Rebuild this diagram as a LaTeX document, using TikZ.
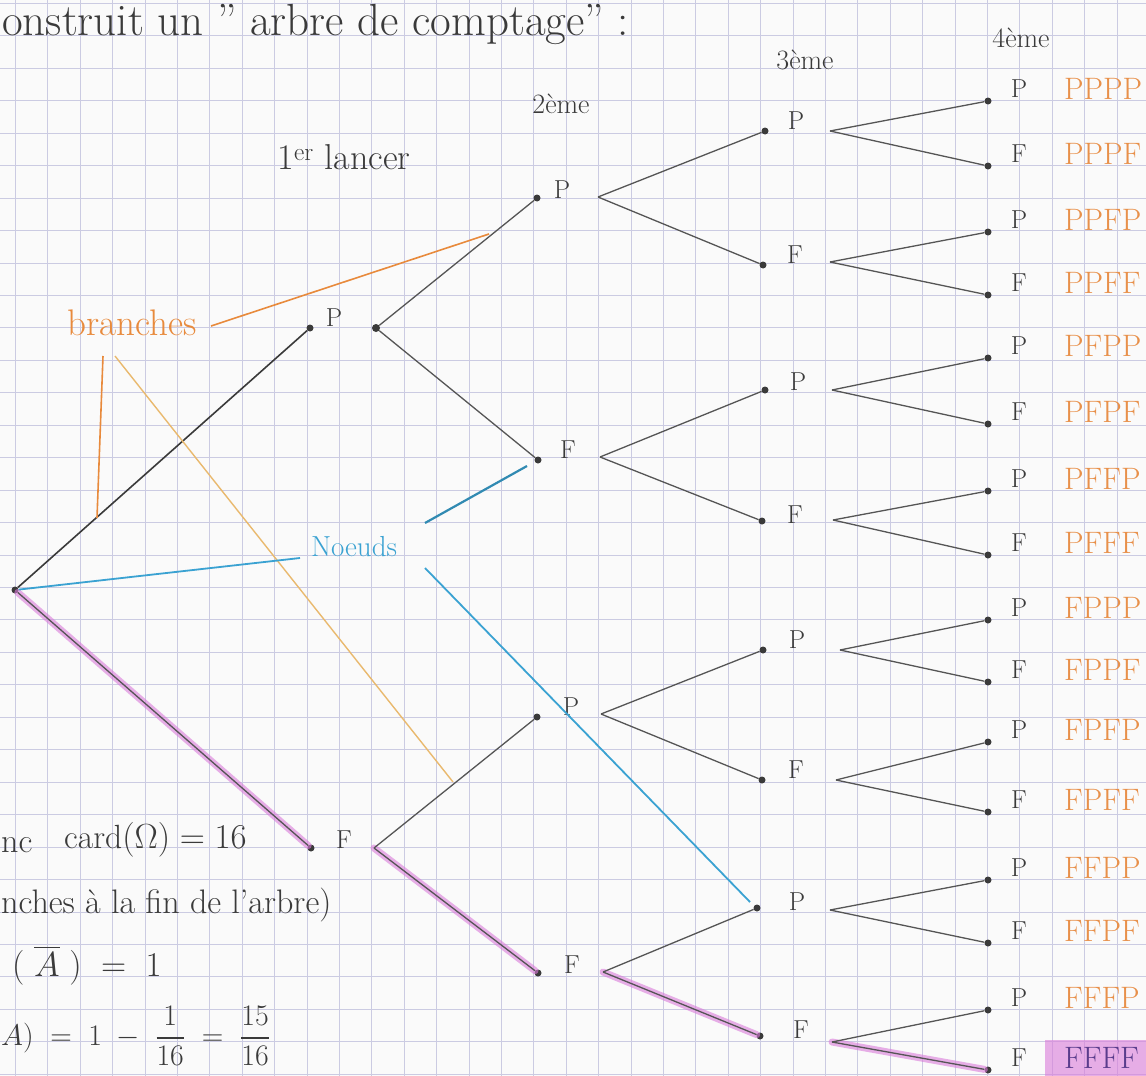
\documentclass[tikz,border=0pt]{standalone}
\usepackage{graphicx}
\usepackage{amsmath}
\definecolor{paper}{HTML}{FAFAFA}
\definecolor{gridc}{HTML}{CBCBE2}
\definecolor{ink}{HTML}{3A3A3A}
\definecolor{branchc}{HTML}{555555}
\definecolor{leafc}{HTML}{E8904A}
\definecolor{orangec}{HTML}{E88A3C}
\definecolor{tanc}{HTML}{E9B96E}
\definecolor{bluec}{HTML}{3AA2D2}
\definecolor{pinkc}{HTML}{DA7ADA}
\definecolor{purplec}{HTML}{5A3C8C}
\begin{document}
\begin{tikzpicture}[x=1pt,y=-1pt,
  dot/.style={circle,fill=ink,inner sep=0pt,minimum size=7pt},
  lbl/.style={text=ink,font=\fontsize{26}{30}\selectfont,inner sep=0pt},
  leaf/.style={text=leafc,font=\fontsize{31}{34}\selectfont,anchor=west,inner sep=0pt},
  hw/.style={text=ink,font=\fontsize{34}{38}\selectfont,inner sep=0pt},
  mhw/.style={text=ink,font=\fontsize{24}{28}\selectfont,inner sep=0pt},
  br/.style={draw=branchc,line width=1.3pt},
  hl/.style={draw=pinkc,line width=7pt,opacity=0.6,line cap=round},
  oline/.style={draw=orangec,line width=1.6pt},
  tline/.style={draw=tanc,line width=1.4pt},
  bline/.style={draw=bluec,line width=1.8pt}]
\useasboundingbox (0,0) rectangle (1146,1076);
\clip (0,0) rectangle (1146,1076);
\fill[paper] (0,0) rectangle (1146,1076);
% graph paper
\foreach \i in {0,...,34} \draw[gridc,line width=0.8pt] ({15.4+32.4*\i},0) -- ({15.4+32.4*\i},1076);
\foreach \j in {0,...,33} \draw[gridc,line width=0.8pt] (0,{3.3+32.45*\j}) -- (1146,{3.3+32.45*\j});

% heading texts
\node[hw,anchor=base west,font=\fontsize{45}{50}\selectfont] (title) at (2,35) {onstruit un " arbre de comptage" :};
\node[hw,font=\fontsize{36}{40}\selectfont] (t1) at (344,157) {1\textsuperscript{er} lancer};
\node[hw,font=\fontsize{28}{32}\selectfont] (t2) at (561,104) {2\`eme};
\node[hw,font=\fontsize{28}{32}\selectfont] (t3) at (805,60) {3\`eme};
\node[hw,font=\fontsize{28}{32}\selectfont] (t4) at (1021,38) {4\`eme};

% highlight behind FFFF
\coordinate (root) at (15,590);
\fill[pinkc,opacity=0.6] (1045,1040) rectangle (1146,1076);

% level 1
\node[dot] (r) at (root) {};
\node[dot] (a) at (310,328) {}; \node[lbl] (aL) at (334,318) {P}; \node[dot,minimum size=8pt] (as) at (376,328) {};
\node[dot] (b) at (311,848) {}; \node[lbl] (bL) at (344,840) {F}; \coordinate (bs) at (374,848);
% level 2
\node[dot] (aa) at (537,198) {}; \node[lbl] (aaL) at (562,190) {P}; \coordinate (aas) at (598,197);
\node[dot] (ab) at (538,460) {}; \node[lbl] (abL) at (568,450) {F}; \coordinate (abs) at (600,457);
\node[dot] (ba) at (537,717) {}; \node[lbl] (baL) at (571,707) {P}; \coordinate (bas) at (601,714);
\node[dot] (bb) at (538,973) {}; \node[lbl] (bbL) at (572,965) {F}; \coordinate (bbs) at (603,972);
% level 3
\node[dot] (c1) at (765,131) {}; \node[lbl] (c1L) at (796,121) {P}; \coordinate (c1s) at (830,131);
\node[dot] (c2) at (763,265) {}; \node[lbl] (c2L) at (795,255) {F}; \coordinate (c2s) at (830,262);
\node[dot] (c3) at (765,390) {}; \node[lbl] (c3L) at (798,382) {P}; \coordinate (c3s) at (832,390);
\node[dot] (c4) at (762,521) {}; \node[lbl] (c4L) at (795,515) {F}; \coordinate (c4s) at (833,520);
\node[dot] (c5) at (763,650) {}; \node[lbl] (c5L) at (797,640) {P}; \coordinate (c5s) at (840,650);
\node[dot] (c6) at (762,780) {}; \node[lbl] (c6L) at (796,770) {F}; \coordinate (c6s) at (836,780);
\node[dot] (c7) at (757,908) {}; \node[lbl] (c7L) at (797,902) {P}; \coordinate (c7s) at (830,910);
\node[dot] (c8) at (760,1036) {}; \node[lbl] (c8L) at (801,1030) {F}; \coordinate (c8s) at (832,1042);

% level 4 leaves
\foreach \k/\y/\s/\w in {1/101/P/PPPP,2/166/F/PPPF,3/232/P/PPFP,4/295/F/PPFF,5/358/P/PFPP,6/424/F/PFPF,7/491/P/PFFP,8/555/F/PFFF,9/620/P/FPPP,10/682/F/FPPF,11/742/P/FPFP,12/812/F/FPFF,13/880/P/FFPP,14/943/F/FFPF,15/1010/P/FFFP}{
  \node[dot] (d\k) at (988,\y) {};
  \node[lbl] (d\k L) at (1019,\y-12) {\s};
  \node[leaf] (w\k) at (1064,\y-12) {\w};
}
\node[dot] (d16) at (988,1070) {};
\node[lbl] (d16L) at (1019,1058) {F};
\node[leaf,text=purplec] (w16) at (1064,1058) {FFFF};

% pink highlighted path
\draw[hl] (r) -- (b);
\draw[hl] (bs) -- (bb);
\draw[hl] (bbs) -- (c8);
\draw[hl] (c8s) -- (d16);

% branches
\draw[br,draw=ink,line width=1.6pt] (r) -- (a);
\draw[br] (r) -- (b);
\draw[br] (as) -- (aa); \draw[br] (as) -- (ab);
\draw[br] (bs) -- (ba); \draw[br] (bs) -- (bb);
\draw[br] (aas) -- (c1); \draw[br] (aas) -- (c2);
\draw[br] (abs) -- (c3); \draw[br] (abs) -- (c4);
\draw[br] (bas) -- (c5); \draw[br] (bas) -- (c6);
\draw[br] (bbs) -- (c7); \draw[br] (bbs) -- (c8);
\draw[br] (c1s) -- (d1); \draw[br] (c1s) -- (d2);
\draw[br] (c2s) -- (d3); \draw[br] (c2s) -- (d4);
\draw[br] (c3s) -- (d5); \draw[br] (c3s) -- (d6);
\draw[br] (c4s) -- (d7); \draw[br] (c4s) -- (d8);
\draw[br] (c5s) -- (d9); \draw[br] (c5s) -- (d10);
\draw[br] (c6s) -- (d11); \draw[br] (c6s) -- (d12);
\draw[br] (c7s) -- (d13); \draw[br] (c7s) -- (d14);
\draw[br] (c8s) -- (d15); \draw[br] (c8s) -- (d16);

% annotations: branches
\node[text=orangec,font=\fontsize{37}{40}\selectfont,inner sep=0pt] (brl) at (132,323) {branches};
\coordinate (o1a) at (211,326); \coordinate (o1b) at (489,234);
\coordinate (o2a) at (103,356); \coordinate (o2b) at (97,518);
\coordinate (o3a) at (115,356); \coordinate (o3b) at (453,782);
\draw[oline] (o1a) -- (o1b);
\draw[oline] (o2a) -- (o2b);
\draw[tline] (o3a) -- (o3b);
% annotations: noeuds
\node[text=bluec,font=\fontsize{29}{32}\selectfont,inner sep=0pt] (nd) at (354,547) {Noeuds};
\coordinate (b1) at (300,558);
\coordinate (b2a) at (425,523); \coordinate (b2b) at (527,466);
\coordinate (b3a) at (425,568); \coordinate (b3b) at (750,902);
\draw[bline] (r) -- (b1);
\draw[bline,draw=bluec!85!black,line width=2.2pt] (b2a) -- (b2b);
\draw[bline] (b3a) -- (b3b);

% bottom-left notes
\node[hw,anchor=west] (n1a) at (1,845) {nc};
\node[mhw,anchor=west] (n1b) at (64,840) {\scalebox{1.4}{card$(\Omega)=16$}};
\node[hw,anchor=west] (n2) at (1,905) {nches \`a la fin de l'arbre)};
\node[mhw,anchor=west] (n3) at (12,965) {\scalebox{1.4}{$(\;\overline{A}\;)\;=\;1$}};
\node[mhw,anchor=west] (n4) at (1,1036) {\scalebox{1.2}{$A)\;=\;1\;-\;\dfrac{1}{16}\;=\;\dfrac{15}{16}$}};
\end{tikzpicture}
\end{document}
